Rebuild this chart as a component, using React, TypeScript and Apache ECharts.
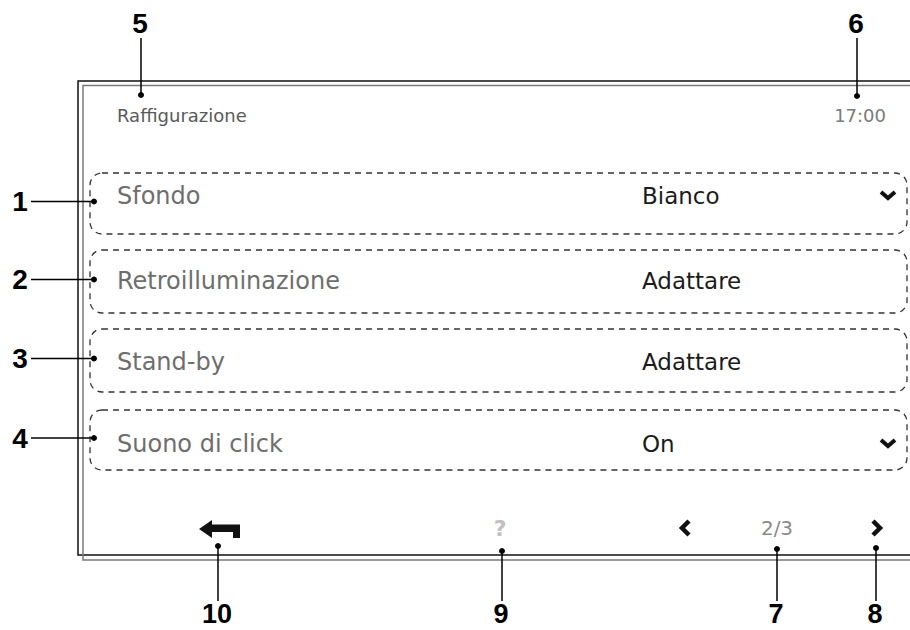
import React, { useEffect, useRef } from "react";
import * as echarts from "echarts";

const headerTitle = "Raffigurazione";
const headerTime = "17:00";
const rowLabels = ["Sfondo", "Retroilluminazione", "Stand-by", "Suono di click"];
const rowValues = ["Bianco", "Adattare", "Adattare", "On"];
const rowHasDropdown = [true, false, false, true];
const rowTop = [173, 250, 329, 410];
const rowBottom = [234, 313, 392, 470];
const rowTextY = [196, 281, 362, 444];
const leftCallouts = ["1", "2", "3", "4"];
const helpText = "?";
const pageText = "2/3";
const topCallouts = [
  { n: "5", x: 141, dotY: 95 },
  { n: "6", x: 857, dotY: 96 },
];
const bottomCallouts = [
  { n: "10", x: 218, dotY: 546 },
  { n: "9", x: 502, dotY: 551 },
  { n: "7", x: 777, dotY: 549 },
  { n: "8", x: 876, dotY: 548 },
];

const UI_FONT = "'DejaVu Sans', sans-serif";
const NUM_FONT = "'Liberation Sans', Arial, sans-serif";

export default function App() {
  const ref = useRef<HTMLDivElement>(null);
  useEffect(() => {
    if (!ref.current) return;
    const chart = echarts.init(ref.current, undefined, { renderer: "svg" });
    const els: any[] = [];

    // Frame (two offset rectangles)
    els.push({
      type: "polyline",
      shape: { points: [[930, 81], [78, 81], [78, 555], [930, 555]] },
      style: { stroke: "#111", lineWidth: 1.5, fill: null },
    });
    els.push({
      type: "polyline",
      shape: { points: [[930, 85.5], [83, 85.5], [83, 560], [930, 560]] },
      style: { stroke: "#7a7a7a", lineWidth: 1.5, fill: null },
    });

    // Header
    els.push({
      type: "text",
      x: 117, y: 115,
      style: { text: headerTitle, font: `18px ${UI_FONT}`, fill: "#5a5a5a", verticalAlign: "middle", align: "left" },
    });
    els.push({
      type: "text",
      x: 886, y: 115,
      style: { text: headerTime, font: `18px ${UI_FONT}`, fill: "#7a7a7a", verticalAlign: "middle", align: "right" },
    });

    // Rows
    rowLabels.forEach((label, i) => {
      els.push({
        type: "rect",
        shape: { x: 90, y: rowTop[i], width: 817, height: rowBottom[i] - rowTop[i], r: 12 },
        style: { stroke: "#333", lineWidth: 1.3, lineDash: [6, 5], fill: null },
      });
      els.push({
        type: "text",
        x: 117, y: rowTextY[i],
        style: { text: label, font: `24px ${UI_FONT}`, fill: "#6e6e6e", verticalAlign: "middle", align: "left" },
      });
      els.push({
        type: "text",
        x: 642, y: rowTextY[i],
        style: { text: rowValues[i], font: `23px ${UI_FONT}`, fill: "#1c1c1c", verticalAlign: "middle", align: "left" },
      });
      if (rowHasDropdown[i]) {
        const cy = rowTextY[i];
        els.push({
          type: "polyline",
          shape: { points: [[881, cy - 4], [888, cy + 2], [895, cy - 4]] },
          style: { stroke: "#111", lineWidth: 4, fill: null, lineJoin: "miter" },
        });
      }
      // left callout
      const ly = (rowTop[i] + rowBottom[i]) / 2 - 2;
      els.push({
        type: "line",
        shape: { x1: 31, y1: ly, x2: 94, y2: ly },
        style: { stroke: "#000", lineWidth: 1.5 },
      });
      els.push({ type: "circle", shape: { cx: 94, cy: ly, r: 3 }, style: { fill: "#000" } });
      els.push({
        type: "text",
        x: 20, y: ly,
        style: { text: leftCallouts[i], font: `bold 28px ${NUM_FONT}`, fill: "#000", verticalAlign: "middle", align: "center" },
      });
    });

    // Bottom bar icons
    els.push({
      type: "polygon",
      shape: {
        points: [[199, 529], [212, 520], [212, 524.5], [240, 524.5], [240, 538], [233, 538], [233, 532], [212, 532], [212, 538]],
      },
      style: { fill: "#111" },
    });
    els.push({
      type: "text",
      x: 500, y: 528,
      style: { text: helpText, font: `bold 22px ${UI_FONT}`, fill: "#c0c0c0", verticalAlign: "middle", align: "center" },
    });
    els.push({
      type: "polyline",
      shape: { points: [[689, 521], [682, 528], [689, 535]] },
      style: { stroke: "#111", lineWidth: 4.5, fill: null },
    });
    els.push({
      type: "text",
      x: 777, y: 528,
      style: { text: pageText, font: `20px ${UI_FONT}`, fill: "#8a8a8a", verticalAlign: "middle", align: "center" },
    });
    els.push({
      type: "polyline",
      shape: { points: [[873, 521], [880, 528], [873, 535]] },
      style: { stroke: "#111", lineWidth: 4.5, fill: null },
    });

    // Top callouts
    topCallouts.forEach((c) => {
      els.push({ type: "line", shape: { x1: c.x, y1: 38, x2: c.x, y2: c.dotY }, style: { stroke: "#000", lineWidth: 1.5 } });
      els.push({ type: "circle", shape: { cx: c.x, cy: c.dotY, r: 3 }, style: { fill: "#000" } });
      els.push({
        type: "text",
        x: c.x - 1, y: 23,
        style: { text: c.n, font: `bold 28px ${NUM_FONT}`, fill: "#000", verticalAlign: "middle", align: "center" },
      });
    });

    // Bottom callouts
    bottomCallouts.forEach((c) => {
      els.push({ type: "line", shape: { x1: c.x, y1: c.dotY, x2: c.x, y2: 601 }, style: { stroke: "#000", lineWidth: 1.5 } });
      els.push({ type: "circle", shape: { cx: c.x, cy: c.dotY, r: 3 }, style: { fill: "#000" } });
      els.push({
        type: "text",
        x: c.x - 1, y: 614,
        style: { text: c.n, font: `bold 27px ${NUM_FONT}`, fill: "#000", verticalAlign: "middle", align: "center" },
      });
    });

    chart.setOption({
      animation: false,
      backgroundColor: "#ffffff",
      graphic: { elements: els },
    });
    return () => chart.dispose();
  }, []);
  return (
    <div
      ref={ref}
      style={{ position: "fixed", left: 0, top: 0, width: 910, height: 630 }}
    />
  );
}
